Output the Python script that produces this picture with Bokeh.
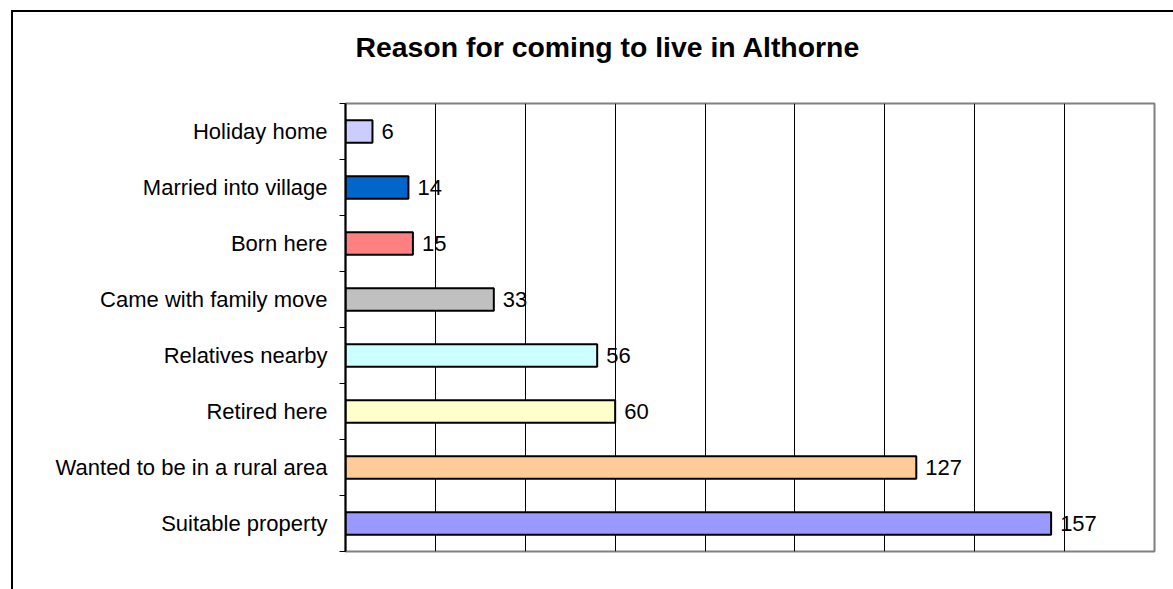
from bokeh.plotting import figure
from bokeh.models import Range1d, FixedTicker, SingleIntervalTicker, ColumnDataSource
from bokeh.core.properties import value
from bokeh.embed import file_html
from bokeh.resources import INLINE

# ---- data (top to bottom as shown) ----
categories = ["Holiday home", "Married into village", "Born here", "Came with family move",
              "Relatives nearby", "Retired here", "Wanted to be in a rural area", "Suitable property"]
counts = [6, 14, 15, 33, 56, 60, 127, 157]
colors = ["#CCCCFF", "#0066CC", "#FF8080", "#C0C0C0", "#CCFFFF", "#FFFFCC", "#FFCC99", "#9999FF"]
title_text = "Reason for coming to live in Althorne"
x_max = 180
x_step = 20

n = len(categories)
ys = [n - i - 0.5 for i in range(n)]

FONT = "Liberation Sans"
SHIFT = 13  # canvas is lifted by this many px so the title sits high above the frame

p = figure(
    x_range=Range1d(0, x_max), y_range=Range1d(0, n),
    frame_width=809, frame_height=448,
    min_border_left=345, min_border_top=103, min_border_right=19, min_border_bottom=38,
    output_backend="svg", toolbar_location=None, tools="",
    background_fill_color="white", border_fill_color=None,
)
# outer chart-area border: only left/top visible within window
p.styles = {
    "margin-top": f"-{SHIFT}px",
    "box-shadow": f"inset 11px {10 + SHIFT}px 0 0 white, inset 13px {12 + SHIFT}px 0 0 black",
}

p.title.text = title_text
p.title.text_font = FONT
p.title.text_font_size = "28.4px"
p.title.text_font_style = "bold"
p.title.text_color = "black"
p.title.align = "left"
p.title.offset = 10
p.title.standoff = 82

p.outline_line_color = "#808080"
p.outline_line_width = 2

# x axis hidden, grid every 20
p.xaxis.visible = False
p.xgrid.ticker = SingleIntervalTicker(interval=x_step, num_minor_ticks=0)
p.xgrid.grid_line_color = "black"
p.xgrid.grid_line_width = 1
p.ygrid.visible = False

# y axis: labels at category centres, ticks at boundaries
yaxis = p.yaxis[0]
yaxis.ticker = FixedTicker(ticks=ys, minor_ticks=list(range(n + 1)))
yaxis.major_label_overrides = {y: c for y, c in zip(ys, categories)}
yaxis.major_tick_line_color = None
yaxis.major_tick_in = 0
yaxis.major_tick_out = 0
yaxis.minor_tick_in = 0
yaxis.minor_tick_out = 6
yaxis.minor_tick_line_color = "black"
yaxis.minor_tick_line_width = 1
yaxis.axis_line_color = "black"
yaxis.axis_line_width = 2
yaxis.major_label_standoff = 12
yaxis.major_label_text_font = FONT
yaxis.major_label_text_font_size = "22px"
yaxis.major_label_text_color = "black"

src = ColumnDataSource(dict(y=ys, v=counts, c=colors, t=[str(v) for v in counts]))

p.hbar(y="y", left=0, right="v", height=0.4, fill_color="c", line_color="black",
       line_width=2, source=src)

p.text(x="v", y="y", text="t", x_offset=9, text_align="left", text_baseline="middle",
       text_font=value(FONT), text_font_size="22px", text_color="black", source=src)

open("out.html", "w").write(file_html(p, INLINE))
